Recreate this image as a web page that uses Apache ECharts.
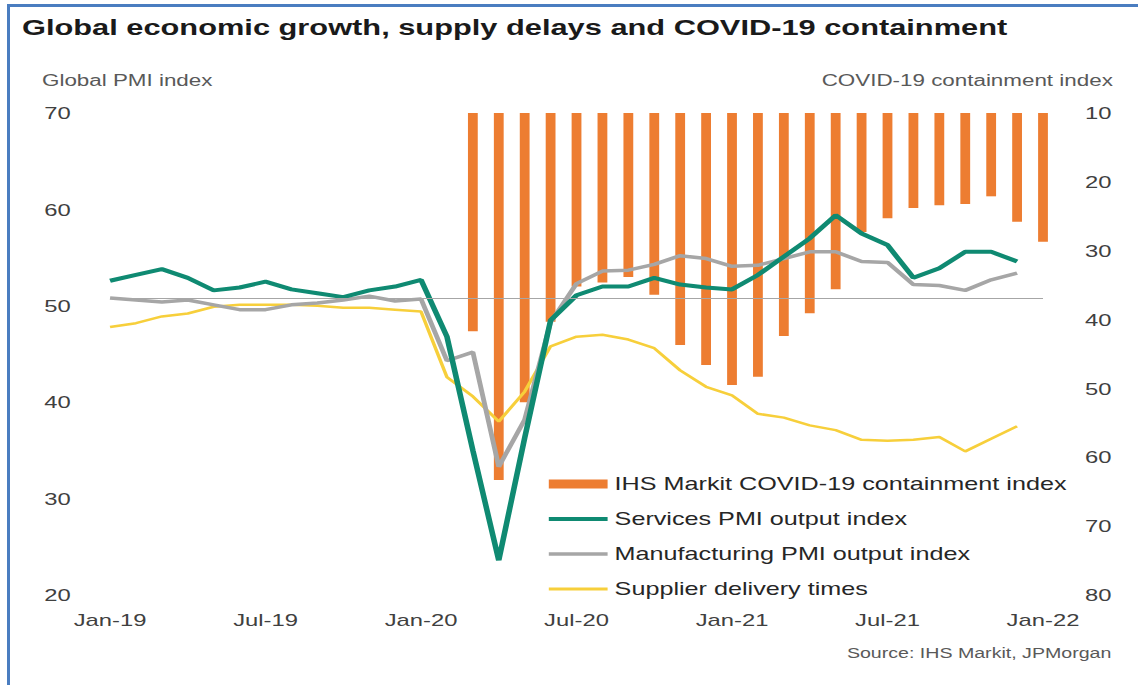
<!DOCTYPE html>
<html>
<head>
<meta charset="utf-8">
<title>Global economic growth, supply delays and COVID-19 containment</title>
<script src="https://cdn.jsdelivr.net/npm/echarts@6/dist/echarts.min.js"></script>
<style>
  html, body { margin: 0; padding: 0; background: #fff; overflow: hidden; }
  /* the reference picture is stretched sideways, so the chart is drawn narrow and widened */
  #chart { position: absolute; left: 0; top: 0; width: 813px; height: 685px;
           transform: scaleX(1.4); transform-origin: 0 0; }
  #frame { position: absolute; left: 7px; top: 4px; width: 1131px; height: 681px;
           border-top: 3px solid #4a7dc0; border-left: 3px solid #4a7dc0; pointer-events: none; }
</style>
</head>
<body>
<div id="chart"></div>
<div id="frame"></div>
<script>
const months = [
  'Jan-19','Feb-19','Mar-19','Apr-19','May-19','Jun-19','Jul-19','Aug-19','Sep-19','Oct-19','Nov-19','Dec-19',
  'Jan-20','Feb-20','Mar-20','Apr-20','May-20','Jun-20','Jul-20','Aug-20','Sep-20','Oct-20','Nov-20','Dec-20',
  'Jan-21','Feb-21','Mar-21','Apr-21','May-21','Jun-21','Jul-21','Aug-21','Sep-21','Oct-21','Nov-21','Dec-21',
  'Jan-22'
];

// left axis, PMI readings
const servicesPmi = [52.6, 53.2, 53.8, 52.9, 51.6, 51.9, 52.5, 51.7, 51.3, 50.9, 51.6, 52.0,
                     52.7, 46.8, 35.0, 23.6, 36.3, 48.5, 51.1, 52.0, 52.0, 52.9, 52.2, 51.9,
                     51.7, 53.2, 55.1, 57.0, 59.4, 57.5, 56.3, 52.9, 53.9, 55.6, 55.6, 54.6, null];
const manufacturingPmi = [50.8, 50.6, 50.4, 50.6, 50.1, 49.6, 49.6, 50.1, 50.3, 50.6, 51.0, 50.5,
                          50.7, 44.3, 45.2, 33.3, 38.2, 48.3, 52.3, 53.6, 53.7, 54.3, 55.2, 54.9,
                          54.1, 54.2, 54.9, 55.6, 55.6, 54.6, 54.5, 52.2, 52.1, 51.6, 52.7, 53.4, null];
const supplierDelivery = [47.8, 48.2, 48.9, 49.2, 49.9, 50.1, 50.1, 50.1, 50.0, 49.8, 49.8, 49.6,
                          49.4, 42.6, 40.6, 38.0, 41.1, 45.8, 46.8, 47.0, 46.5, 45.6, 43.3, 41.6,
                          40.7, 38.8, 38.4, 37.6, 37.1, 36.1, 36.0, 36.1, 36.4, 34.9, 36.2, 37.5, null];
// right axis (inverted), containment index
const containment = [null, null, null, null, null, null, null, null, null, null, null, null,
                     null, null, 41.7, 63.3, 52.0, 40.3, 35.2, 34.6, 33.8, 36.4, 43.7, 46.6,
                     49.5, 48.3, 42.4, 39.1, 35.6, 27.3, 25.3, 23.8, 23.4, 23.2, 22.1, 25.8, 28.7];
const pmiThreshold = 50.8;

const leftTicks = { min: 20, max: 70, interval: 10 };
const rightTicks = { min: 10, max: 80, interval: 10 };

const FONT = '"Liberation Sans", Arial, sans-serif';
const ORANGE = '#ed7d31', TEAL = '#0f8a72', GREY = '#a6a6a6', YELLOW = '#f7cf3b';

const chart = echarts.init(document.getElementById('chart'), null, { renderer: 'svg' });

chart.setOption({
  animation: false,
  backgroundColor: '#fff',
  title: {
    text: 'Global economic growth, supply delays and COVID-19 containment',
    left: 15.7, top: 17, padding: 0,
    textStyle: { fontFamily: FONT, fontSize: 22, fontWeight: 'bold', color: '#1a1a1a' }
  },
  graphic: [
    { type: 'text', left: 30, top: 72,
      style: { text: 'Global PMI index', fontFamily: FONT, fontSize: 16, fill: '#595959' } },
    { type: 'text', right: 18, top: 72,
      style: { text: 'COVID-19 containment index', fontFamily: FONT, fontSize: 16, fill: '#595959' } },
    { type: 'text', right: 19, top: 646,
      style: { text: 'Source: IHS Markit, JPMorgan', fontFamily: FONT, fontSize: 14, fill: '#595959' } }
  ],
  legend: {
    orient: 'vertical', left: 392, top: 474, padding: 0,
    itemWidth: 42, itemHeight: 14, itemGap: 15,
    selectedMode: false,
    textStyle: { fontFamily: FONT, fontSize: 18, color: '#262626', lineHeight: 20 },
    data: [
      { name: 'IHS Markit COVID-19 containment index', icon: 'path://M0,0H42V9H0Z', itemStyle: { color: ORANGE } },
      { name: 'Services PMI output index', icon: 'path://M0,0H42V4H0Z', itemStyle: { color: TEAL } },
      { name: 'Manufacturing PMI output index', icon: 'path://M0,0H42V3.5H0Z', itemStyle: { color: GREY } },
      { name: 'Supplier delivery times', icon: 'path://M0,0H42V3H0Z', itemStyle: { color: YELLOW } }
    ]
  },
  grid: { left: 78.6, right: 68, top: 113, bottom: 90 },
  xAxis: {
    type: 'category', data: months, boundaryGap: false,
    axisLine: { show: false }, axisTick: { show: false }, splitLine: { show: false },
    axisLabel: { interval: 5, margin: 16, fontFamily: FONT, fontSize: 17, color: '#404040' }
  },
  yAxis: [
    {
      type: 'value', position: 'left', ...leftTicks,
      axisLine: { show: false }, axisTick: { show: false }, splitLine: { show: false },
      axisLabel: { margin: 28, fontFamily: FONT, fontSize: 17, color: '#404040' }
    },
    {
      type: 'value', position: 'right', inverse: true, startValue: rightTicks.min, ...rightTicks,
      axisLine: { show: false }, axisTick: { show: false }, splitLine: { show: false },
      axisLabel: { margin: 30, fontFamily: FONT, fontSize: 17, color: '#404040' }
    }
  ],
  series: [
    {
      name: 'IHS Markit COVID-19 containment index', type: 'bar', yAxisIndex: 1,
      data: containment, barWidth: 7, clip: false,
      itemStyle: { color: ORANGE }, z: 1
    },
    {
      name: 'Supplier delivery times', type: 'line', yAxisIndex: 0,
      data: supplierDelivery, symbol: 'none',
      lineStyle: { color: YELLOW, width: 2.5 }, itemStyle: { color: YELLOW }, z: 2
    },
    {
      name: 'Manufacturing PMI output index', type: 'line', yAxisIndex: 0,
      data: manufacturingPmi, symbol: 'none',
      lineStyle: { color: GREY, width: 3.5 }, itemStyle: { color: GREY }, z: 3
    },
    {
      name: 'Services PMI output index', type: 'line', yAxisIndex: 0,
      data: servicesPmi, symbol: 'none',
      lineStyle: { color: TEAL, width: 4 }, itemStyle: { color: TEAL }, z: 4,
      markLine: {
        silent: true, symbol: 'none', label: { show: false },
        lineStyle: { color: GREY, width: 1, type: 'solid' },
        data: [{ yAxis: pmiThreshold }]
      }
    }
  ]
});
</script>
</body>
</html>
